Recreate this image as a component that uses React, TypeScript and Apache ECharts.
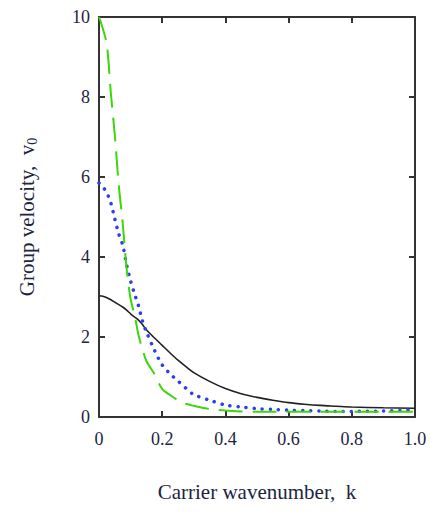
import React, { useEffect, useRef } from "react";
import * as echarts from "echarts";

const kValues = [0, 0.0125, 0.025, 0.0375, 0.05, 0.0625, 0.075, 0.0875, 0.1, 0.1125, 0.125, 0.1375, 0.15, 0.175, 0.2, 0.225, 0.25, 0.275, 0.3, 0.35, 0.4, 0.45, 0.5, 0.55, 0.6, 0.65, 0.7, 0.75, 0.8, 0.9, 1.0];
const blackValues = [3.03, 3.02, 2.98, 2.93, 2.87, 2.81, 2.75, 2.67, 2.58, 2.5, 2.42, 2.31, 2.18, 1.98, 1.79, 1.6, 1.42, 1.26, 1.11, 0.89, 0.71, 0.58, 0.49, 0.42, 0.36, 0.32, 0.29, 0.27, 0.25, 0.23, 0.22];
const greenValues = [10, 9.7, 9.3, 8.1, 7.05, 5.8, 4.85, 3.7, 2.95, 2.55, 2.05, 1.7, 1.4, 1.08, 0.7, 0.55, 0.42, 0.33, 0.28, 0.2, 0.16, 0.14, 0.13, 0.13, 0.13, 0.13, 0.13, 0.13, 0.13, 0.13, 0.13];
const blueValues = [5.85, 5.75, 5.6, 5.35, 4.95, 4.58, 4.3, 3.8, 3.4, 3.08, 2.78, 2.4, 2.13, 1.68, 1.3, 1.08, 0.9, 0.72, 0.56, 0.42, 0.3, 0.25, 0.21, 0.19, 0.17, 0.16, 0.15, 0.14, 0.14, 0.15, 0.18];
const xTickLabels = ["0", "0.2", "0.4", "0.6", "0.8", "1.0"];
const yTickLabels = ["0", "2", "4", "6", "8", "10"];

const pairs = (vals: number[]) => kValues.map((k, i) => [k, vals[i]]);

export default function App() {
  const ref = useRef<HTMLDivElement>(null);
  useEffect(() => {
    if (!ref.current) return;
    const chart = echarts.init(ref.current, null, { renderer: "svg" });
    const font = "Liberation Serif";
    const txt = "#1c2440";
    const axisLine = { show: true, onZero: false, lineStyle: { color: "#333", width: 2 } };
    const axisTick = { show: true, inside: true, length: 6, lineStyle: { color: "#333", width: 2 } };
    chart.setOption({
      animation: false,
      backgroundColor: "#fff",
      grid: { left: 99, right: 21, top: 17, bottom: 98 },
      xAxis: [
        {
          type: "value", min: 0, max: 1, interval: 0.2, position: "bottom",
          axisLine, axisTick, splitLine: { show: false },
          axisLabel: {
            margin: 13, fontFamily: font, fontSize: 18, color: txt,
            formatter: (v: number) => xTickLabels[Math.round(v / 0.2)] ?? "",
          },
          name: "Carrier wavenumber,  k", nameLocation: "middle", nameGap: 64,
          nameTextStyle: { fontFamily: font, fontSize: 21, color: txt },
        },
        {
          type: "value", min: 0, max: 1, interval: 0.2, position: "top",
          axisLine, axisTick, splitLine: { show: false }, axisLabel: { show: false },
        },
      ],
      yAxis: [
        {
          type: "value", min: 0, max: 10, interval: 2, position: "left",
          axisLine, axisTick, splitLine: { show: false },
          axisLabel: {
            margin: 9, fontFamily: font, fontSize: 18, color: txt,
            formatter: (v: number) => yTickLabels[Math.round(v / 2)] ?? "",
          },
          name: "Group velocity,  v{sub|0}", nameLocation: "middle", nameGap: 60,
          nameTextStyle: {
            fontFamily: font, fontSize: 21, color: txt,
            rich: { sub: { fontFamily: font, fontSize: 14, color: txt, verticalAlign: "bottom", padding: [10, 0, 0, 0] } },
          },
        },
        {
          type: "value", min: 0, max: 10, interval: 2, position: "right",
          axisLine, axisTick, splitLine: { show: false }, axisLabel: { show: false },
        },
      ],
      series: [
        {
          type: "line", data: pairs(blackValues), showSymbol: false, smooth: 0.3,
          lineStyle: { color: "#222", width: 1.6 },
        },
        {
          type: "line", data: pairs(blueValues), showSymbol: false, smooth: 0.3,
          lineStyle: { color: "#2b3ff0", width: 3.5, type: [0.1, 8], cap: "round" },
        },
        {
          type: "line", data: pairs(greenValues), showSymbol: false, smooth: 0.3,
          lineStyle: { color: "#3dd60a", width: 2, type: [24, 10] },
        },
      ],
    });
    return () => chart.dispose();
  }, []);
  return <div ref={ref} style={{ width: 436, height: 515, position: "absolute", left: 0, top: 0 }} />;
}
